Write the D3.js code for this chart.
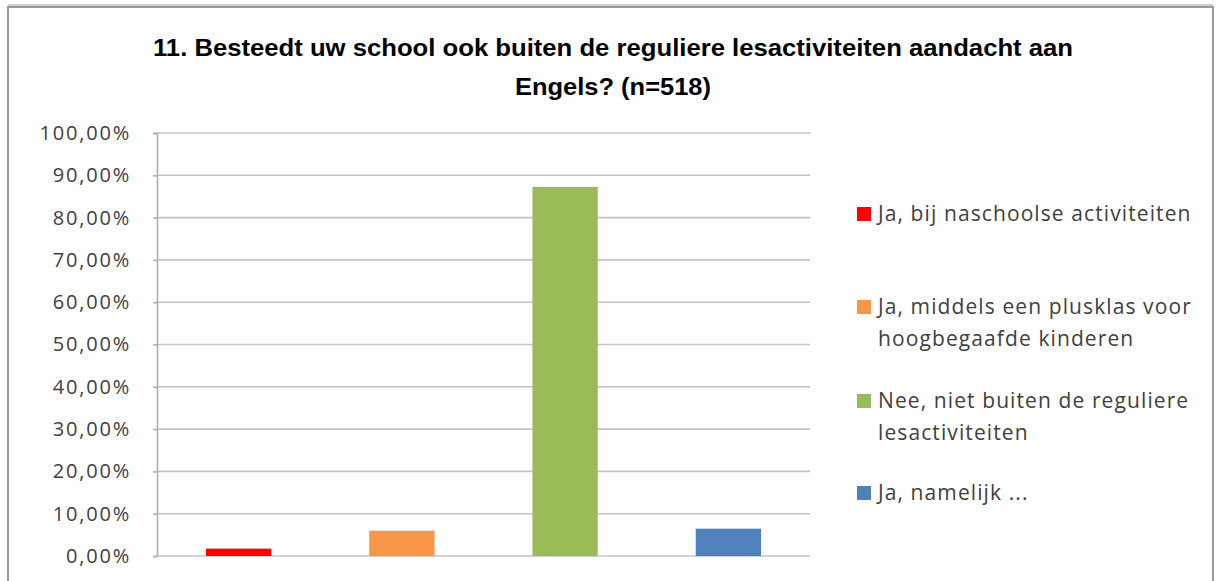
<!DOCTYPE html>
<html><head><meta charset="utf-8">
<script src="https://cdn.jsdelivr.net/npm/d3@7"></script>
<style>body{margin:0;background:#fff;}svg{display:block;}</style>
</head><body>
<svg id="chart" width="1220" height="581"></svg>
<script>
const categories = ["Ja, bij naschoolse activiteiten","Ja, middels een plusklas voor hoogbegaafde kinderen","Nee, niet buiten de reguliere lesactiviteiten","Ja, namelijk ..."];
const legendLines = [["Ja, bij naschoolse activiteiten"],["Ja, middels een plusklas voor","hoogbegaafde kinderen"],["Nee, niet buiten de reguliere","lesactiviteiten"],["Ja, namelijk ..."]];
const values = [1.74, 5.98, 87.26, 6.46];
const colors = ["#ff0000","#f79646","#9bbb59","#4f81bd"];
const yTicks = [0,10,20,30,40,50,60,70,80,90,100];
const titleLines = ["11. Besteedt uw school ook buiten de reguliere lesactiviteiten aandacht aan","Engels? (n=518)"];

const svg = d3.select("#chart");
// outer frame
svg.append("rect").attr("x",8).attr("y",7).attr("width",1205).attr("height",600)
  .attr("fill","#fff").attr("stroke","#9a9a9a").attr("stroke-width",2);
svg.append("line").attr("x1",8).attr("x2",1213).attr("y1",5).attr("y2",5).attr("stroke","#d0d0d0").attr("stroke-width",2);

const pLeft=157, pRight=810, pTop=133, pBottom=556;
const x = d3.scaleBand().domain(categories).range([pLeft,pRight]).paddingInner(0.6).paddingOuter(0.3);
const y = d3.scaleLinear().domain([0,100]).range([pBottom,pTop]);

// gridlines
svg.append("g").selectAll("line").data(yTicks).join("line")
  .attr("x1",pLeft).attr("x2",pRight).attr("y1",d=>y(d)).attr("y2",d=>y(d))
  .attr("stroke","#c4c4c4").attr("stroke-width",1.6);

// y axis
const fmt = d => d.toFixed(2).replace(".",",") + "%";
const ax = svg.append("g").attr("transform",`translate(${pLeft},0)`)
  .call(d3.axisLeft(y).tickValues(yTicks).tickFormat(fmt).tickSize(4).tickPadding(22));
ax.select(".domain").attr("stroke","#b0b0b0").attr("stroke-width",1.6);
ax.selectAll(".tick line").attr("stroke","#b0b0b0").attr("stroke-width",1.6);
ax.selectAll("text").attr("font-family","'Open Sans', sans-serif").attr("font-size",20)
  .attr("letter-spacing",1.8).attr("fill","#404040");

// bars
svg.append("g").selectAll("rect").data(categories).join("rect")
  .attr("x",d=>x(d)).attr("width",x.bandwidth())
  .attr("y",(d,i)=>y(values[i])).attr("height",(d,i)=>pBottom-y(values[i]))
  .attr("fill",(d,i)=>colors[i]);

// title
svg.append("g").selectAll("text").data(titleLines).join("text")
  .attr("x",613).attr("y",(d,i)=>56+i*39).attr("text-anchor","middle")
  .attr("font-family","'Liberation Sans Narrow','Arial Narrow','Liberation Sans',sans-serif")
  .attr("font-weight","bold").attr("font-size",23).attr("fill","#000")
  .attr("textLength",(d,i)=>i===0?920:196).attr("lengthAdjust","spacingAndGlyphs")
  .text(d=>d);

// legend
const legY = [214, 307, 401, 493];
const lg = svg.append("g").selectAll("g").data(legendLines).join("g")
  .attr("transform",(d,i)=>`translate(857,${legY[i]})`);
lg.append("rect").attr("x",0).attr("y",-7).attr("width",14).attr("height",14).attr("fill",(d,i)=>colors[i]);
lg.each(function(lines){
  d3.select(this).selectAll("text").data(lines).join("text")
    .attr("x",21).attr("y",(d,j)=>7+j*32)
    .attr("font-family","'Open Sans', sans-serif").attr("font-size",21)
    .attr("letter-spacing",1.1).attr("fill","#404040")
    .text(d=>d);
});
</script>
</body></html>
